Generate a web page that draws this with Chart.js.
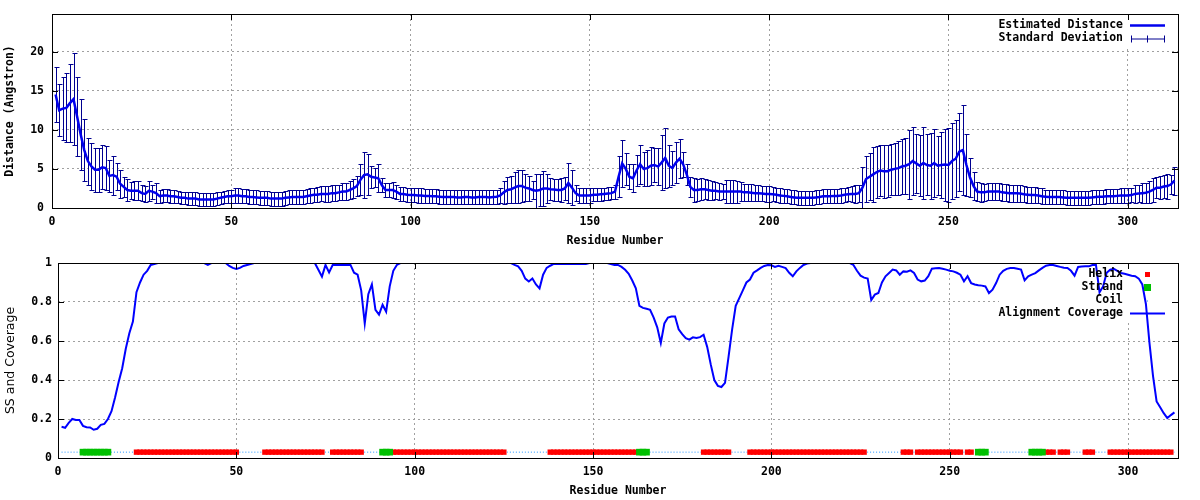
<!DOCTYPE html>
<html>
<head>
<meta charset="utf-8">
<script src="https://cdn.jsdelivr.net/npm/chart.js@4.4.0/dist/chart.umd.min.js"></script>
<style>
  body { margin: 0; background: #fff; }
  .panel { width: 1200px; height: 250px; }
</style>
</head>
<body>
<div class="panel"><canvas id="distanceChart" width="1200" height="250"></canvas></div>
<div class="panel"><canvas id="coverageChart" width="1200" height="250"></canvas></div>
<script>
// estimated distance per residue (Angstrom), residues 1..313
const distance = [
  14.5, 12.5, 12.7, 12.8, 13.4, 13.9, 11.7, 9.4, 7.4, 6.0,
  5.3, 4.9, 4.9, 5.2, 5.1, 4.1, 4.2, 4.0, 3.1, 2.7,
  2.3, 2.2, 2.2, 2.2, 1.9, 1.8, 2.2, 2.1, 1.9, 1.5,
  1.6, 1.6, 1.5, 1.5, 1.4, 1.3, 1.3, 1.2, 1.2, 1.2,
  1.1, 1.1, 1.1, 1.1, 1.1, 1.2, 1.3, 1.4, 1.5, 1.5,
  1.6, 1.6, 1.5, 1.5, 1.4, 1.4, 1.35, 1.3, 1.3, 1.3,
  1.2, 1.2, 1.2, 1.2, 1.3, 1.35, 1.4, 1.4, 1.4, 1.4,
  1.5, 1.6, 1.7, 1.7, 1.8, 1.8, 1.8, 1.9, 1.9, 2.0,
  2.1, 2.1, 2.3, 2.5, 2.8, 3.6, 4.2, 4.3, 4.0, 3.9,
  3.8, 2.9, 2.3, 2.3, 2.3, 2.1, 1.8, 1.8, 1.7, 1.65,
  1.65, 1.6, 1.6, 1.55, 1.55, 1.5, 1.5, 1.45, 1.4, 1.4,
  1.4, 1.4, 1.35, 1.35, 1.4, 1.4, 1.35, 1.35, 1.4, 1.4,
  1.4, 1.35, 1.4, 1.45, 1.6, 2.0, 2.3, 2.4, 2.6, 2.8,
  2.8, 2.6, 2.5, 2.3, 2.2, 2.3, 2.5, 2.5, 2.4, 2.35,
  2.3, 2.3, 2.5, 3.2, 2.6, 1.9, 1.6, 1.6, 1.6, 1.6,
  1.7, 1.7, 1.75, 1.8, 1.85, 1.9, 2.1, 4.0, 5.7, 5.0,
  4.0, 3.8, 4.8, 5.6, 5.0, 5.1, 5.4, 5.5, 5.3, 5.8,
  6.4, 5.4, 5.1, 5.8, 6.3, 5.6, 4.3, 2.7, 2.3, 2.3,
  2.4, 2.4, 2.3, 2.2, 2.2, 2.1, 2.1, 2.1, 2.1, 2.1,
  2.1, 2.1, 2.0, 2.0, 1.95, 1.9, 1.9, 1.85, 1.8, 1.8,
  1.75, 1.7, 1.6, 1.55, 1.5, 1.4, 1.35, 1.3, 1.3, 1.3,
  1.3, 1.3, 1.35, 1.4, 1.5, 1.5, 1.5, 1.55, 1.55, 1.6,
  1.7, 1.75, 1.8, 1.8, 1.9, 2.6, 3.7, 4.0, 4.3, 4.6,
  4.8, 4.7, 4.7, 4.9, 5.0, 5.1, 5.3, 5.4, 5.6, 6.0,
  5.7, 5.4, 5.75, 5.5, 5.4, 5.75, 5.4, 5.5, 5.55, 5.5,
  6.0, 6.3, 7.2, 7.4, 5.5, 3.9, 2.8, 2.1, 2.0, 2.0,
  2.1, 2.1, 2.1, 2.1, 2.0, 1.95, 1.9, 1.9, 1.9, 1.85,
  1.75, 1.7, 1.65, 1.65, 1.6, 1.5, 1.45, 1.4, 1.4, 1.4,
  1.4, 1.35, 1.3, 1.3, 1.3, 1.3, 1.3, 1.3, 1.3, 1.35,
  1.4, 1.45, 1.45, 1.5, 1.5, 1.5, 1.55, 1.6, 1.6, 1.6,
  1.65, 1.8, 1.85, 1.9, 1.95, 2.1, 2.3, 2.6, 2.6, 2.75,
  2.8, 3.0, 3.5
];

// standard deviation per residue
const stdDev = [
  3.5, 3.3, 4.0, 4.4, 5.0, 5.9, 5.1, 4.5, 4.0, 3.0,
  3.0, 2.8, 2.8, 2.8, 2.8, 2.1, 2.5, 1.7, 1.8, 1.3,
  1.4, 1.1, 1.2, 1.2, 1.0, 1.0, 1.3, 0.9, 1.3, 0.8,
  0.8, 0.8, 0.8, 0.8, 0.8, 0.8, 0.8, 0.8, 0.8, 0.8,
  0.8, 0.8, 0.8, 0.8, 0.8, 0.8, 0.8, 0.8, 0.8, 0.8,
  0.9, 0.9, 0.9, 0.9, 0.9, 0.9, 0.9, 0.9, 0.9, 0.9,
  0.9, 0.9, 0.9, 0.9, 0.9, 0.9, 0.9, 0.9, 0.9, 0.9,
  0.9, 0.9, 0.9, 0.95, 0.95, 1.0, 1.0, 1.0, 1.0, 1.0,
  1.1, 1.1, 1.2, 1.2, 1.3, 2.0, 2.9, 2.6, 1.4, 1.2,
  1.8, 0.9, 0.9, 0.9, 1.0, 0.9, 0.9, 0.9, 0.9, 0.9,
  0.9, 0.9, 0.9, 0.9, 0.9, 0.9, 0.9, 0.9, 0.9, 0.9,
  0.9, 0.9, 0.9, 0.9, 0.9, 0.9, 0.9, 0.9, 0.9, 0.9,
  0.9, 0.9, 0.9, 0.9, 0.9, 1.5, 1.6, 1.7, 2.0, 2.1,
  2.0, 1.7, 1.6, 1.1, 2.2, 2.1, 2.2, 1.9, 1.4, 1.4,
  1.4, 1.5, 1.5, 2.5, 2.2, 1.0, 0.9, 0.9, 0.9, 0.9,
  0.8, 0.8, 0.8, 0.8, 0.8, 0.8, 0.9, 2.6, 3.0, 2.0,
  1.6, 1.8, 2.0, 2.5, 2.2, 2.3, 2.4, 2.2, 2.4, 3.5,
  3.8, 2.7, 2.2, 2.6, 2.5, 1.6, 1.3, 1.3, 1.5, 1.4,
  1.4, 1.3, 1.3, 1.2, 1.1, 1.1, 1.0, 1.5, 1.5, 1.5,
  1.4, 1.2, 1.1, 1.1, 1.1, 1.0, 1.0, 1.0, 1.0, 1.0,
  0.9, 0.9, 0.9, 0.9, 0.9, 0.9, 0.9, 0.9, 0.9, 0.9,
  0.9, 0.9, 0.9, 0.9, 0.9, 0.9, 0.9, 0.9, 0.9, 0.9,
  0.9, 0.9, 1.0, 1.1, 1.1, 2.6, 2.9, 3.0, 3.5, 3.3,
  3.3, 3.4, 3.3, 3.3, 3.3, 3.5, 3.5, 3.6, 4.4, 4.3,
  3.8, 3.9, 4.6, 3.9, 4.2, 4.3, 3.8, 4.2, 4.6, 4.7,
  4.9, 4.9, 5.0, 5.8, 4.0, 2.5, 1.8, 1.2, 1.2, 1.1,
  1.1, 1.1, 1.1, 1.1, 1.1, 1.1, 1.1, 1.1, 1.1, 1.1,
  1.0, 1.0, 1.0, 1.0, 1.0, 1.0, 0.9, 0.9, 0.9, 0.9,
  0.9, 0.9, 0.9, 0.9, 0.9, 0.9, 0.9, 0.9, 0.9, 0.9,
  0.9, 0.9, 0.9, 0.9, 0.9, 0.9, 0.9, 0.9, 0.9, 0.9,
  0.9, 1.1, 1.1, 1.3, 1.3, 1.4, 1.5, 1.3, 1.5, 1.5,
  1.6, 1.2, 1.8
];

// alignment coverage per residue
const coverage = [
  0.16, 0.155, 0.18, 0.2, 0.195, 0.195, 0.165, 0.158, 0.157, 0.145,
  0.15, 0.17, 0.175, 0.2, 0.24, 0.31, 0.39, 0.46, 0.56, 0.64,
  0.7, 0.85, 0.9, 0.94, 0.96, 0.99, 0.995, 1, 1, 1,
  1, 1, 1, 1, 1, 1, 1, 1, 1, 1,
  1, 0.99, 1, 1, 1, 1, 1, 0.985, 0.975, 0.97,
  0.975, 0.985, 0.99, 0.995, 1, 1, 1, 1, 1, 1,
  1, 1, 1, 1, 1, 1, 1, 1, 1, 1,
  1, 1, 0.965, 0.93, 0.99, 0.952, 0.99, 0.99, 0.99, 0.99,
  0.99, 0.99, 0.95, 0.94, 0.86, 0.69, 0.84, 0.89, 0.76, 0.735,
  0.786, 0.75, 0.88, 0.96, 0.99, 1, 1, 1, 1, 1,
  1, 1, 1, 1, 1, 1, 1, 1, 1, 1,
  1, 1, 1, 1, 1, 1, 1, 1, 1, 1,
  1, 1, 1, 1, 1, 1, 1, 0.99, 0.983, 0.96,
  0.92, 0.905, 0.92, 0.89, 0.87, 0.94, 0.975, 0.986, 0.995, 0.995,
  0.995, 0.995, 0.995, 0.995, 0.995, 0.995, 0.995, 0.995, 1, 1,
  1, 1, 1, 1, 0.995, 0.99, 0.99, 0.98, 0.965, 0.945,
  0.91, 0.87, 0.78, 0.77, 0.765, 0.76, 0.72, 0.67, 0.59, 0.69,
  0.72, 0.726, 0.726, 0.66, 0.635, 0.615, 0.607, 0.619, 0.615, 0.62,
  0.632, 0.57, 0.48, 0.4, 0.37, 0.364, 0.385, 0.52, 0.66, 0.78,
  0.82, 0.86, 0.9, 0.915, 0.95, 0.962, 0.975, 0.985, 0.99, 0.988,
  0.98, 0.986, 0.98, 0.974, 0.95, 0.932, 0.957, 0.975, 0.99, 0.997,
  1, 1, 1, 1, 1, 1, 1, 1, 1, 1,
  1, 1, 0.99, 0.96, 0.935, 0.925, 0.92, 0.81, 0.838, 0.846,
  0.9, 0.932, 0.949, 0.966, 0.962, 0.94, 0.957, 0.955, 0.962, 0.949,
  0.915, 0.906, 0.91, 0.932, 0.971, 0.973, 0.974, 0.97, 0.966, 0.96,
  0.957, 0.95, 0.94, 0.906, 0.932, 0.897, 0.89, 0.886, 0.884, 0.88,
  0.846, 0.863, 0.897, 0.94, 0.96, 0.97, 0.974, 0.974, 0.97, 0.966,
  0.911, 0.932, 0.94, 0.948, 0.962, 0.975, 0.986, 0.99, 0.99, 0.985,
  0.98, 0.976, 0.974, 0.96, 0.935, 0.98, 0.982, 0.983, 0.983, 0.99,
  0.99, 0.85, 0.88, 0.95, 0.966, 0.97, 0.96, 0.949, 0.945, 0.94,
  0.935, 0.932, 0.92, 0.89, 0.79, 0.59, 0.42, 0.29, 0.26, 0.23,
  0.205, 0.22, 0.234
];

// secondary structure as runs: [type, length]  H = helix, E = strand, C = coil
const ssRuns = [
  ["C", 6], ["E", 8], ["C", 7], ["H", 29], ["C", 7], ["H", 17], ["C", 2],
  ["H", 9], ["C", 5], ["E", 3], ["H", 32], ["C", 12], ["H", 25], ["E", 3],
  ["C", 15], ["H", 8], ["C", 5], ["H", 33], ["C", 10], ["H", 3], ["C", 1],
  ["H", 13], ["C", 1], ["H", 2], ["C", 1], ["E", 3], ["C", 12], ["E", 4],
  ["H", 3], ["C", 1], ["H", 3], ["C", 4], ["H", 3], ["C", 4], ["H", 18],
  ["C", 1]
];
const ssLevel = 0.03;

const xTicks = [0, 50, 100, 150, 200, 250, 300];
const distTicks = [0, 5, 10, 15, 20];
const covTicks = [0, 0.2, 0.4, 0.6, 0.8, 1];

const residues = distance.map((d, i) => i + 1);
const ss = [];
ssRuns.forEach(([t, n]) => { for (let k = 0; k < n; k++) ss.push(t); });

Chart.defaults.font.family = "'DejaVu Sans Mono', monospace";
Chart.defaults.font.size = 11.5;
Chart.defaults.font.weight = "bold";
Chart.defaults.color = "#000";

const monoFont = "bold 11.5px 'DejaVu Sans Mono', monospace";
const gridColor = "#a0a0a0";

// gnuplot style border with inward ticks on all four sides
const framePlugin = {
  id: "frame",
  afterDatasetsDraw(chart) {
    const { ctx, chartArea: a, scales } = chart;
    ctx.save();
    ctx.strokeStyle = "#000";
    ctx.lineWidth = 1;
    ctx.beginPath();
    scales.x.ticks.forEach((t) => {
      const px = Math.round(scales.x.getPixelForValue(t.value)) + 0.5;
      ctx.moveTo(px, a.bottom);
      ctx.lineTo(px, a.bottom - 6);
      ctx.moveTo(px, a.top);
      ctx.lineTo(px, a.top + 6);
    });
    scales.y.ticks.forEach((t) => {
      const py = Math.round(scales.y.getPixelForValue(t.value)) + 0.5;
      ctx.moveTo(a.left, py);
      ctx.lineTo(a.left + 6, py);
      ctx.moveTo(a.right, py);
      ctx.lineTo(a.right - 6, py);
    });
    ctx.stroke();
    ctx.strokeRect(Math.round(a.left) + 0.5, Math.round(a.top) + 0.5,
      Math.round(a.right - a.left), Math.round(a.bottom - a.top));
    ctx.restore();
  },
};

// key box: blanks the grid behind it, then writes the rows on top
function keyPlugin(id, box, rows) {
  return {
    id: id,
    beforeDatasetsDraw(chart) {
      const ctx = chart.ctx;
      ctx.save();
      ctx.fillStyle = "#fff";
      ctx.fillRect(box.x, box.y, box.w, box.h);
      ctx.restore();
    },
    afterDraw(chart) {
      const ctx = chart.ctx;
      ctx.save();
      ctx.font = monoFont;
      ctx.fillStyle = "#000";
      ctx.textAlign = "right";
      ctx.textBaseline = "middle";
      rows.forEach((row) => {
        ctx.fillText(row.label, 1123, row.y);
        ctx.save();
        row.sample(ctx, row.y);
        ctx.restore();
      });
      ctx.restore();
    },
  };
}

const errorBarPlugin = {
  id: "errorBars",
  beforeDatasetsDraw(chart) {
    const { ctx, chartArea: a, scales } = chart;
    ctx.save();
    ctx.beginPath();
    ctx.rect(a.left, a.top, a.right - a.left, a.bottom - a.top);
    ctx.clip();
    ctx.strokeStyle = "#000090";
    ctx.lineWidth = 1;
    ctx.beginPath();
    residues.forEach((r, i) => {
      const x = Math.round(scales.x.getPixelForValue(r)) + 0.5;
      const yTop = Math.round(scales.y.getPixelForValue(distance[i] + stdDev[i])) + 0.5;
      const yBot = Math.round(scales.y.getPixelForValue(distance[i] - stdDev[i])) + 0.5;
      ctx.moveTo(x, yTop);
      ctx.lineTo(x, yBot);
      ctx.moveTo(x - 2, yTop);
      ctx.lineTo(x + 3, yTop);
      ctx.moveTo(x - 2, yBot);
      ctx.lineTo(x + 3, yBot);
    });
    ctx.stroke();
    ctx.restore();
  },
};

function xAxis() {
  return {
    type: "linear",
    min: 0,
    max: 314,
    afterBuildTicks: (s) => { s.ticks = xTicks.map((v) => ({ value: v })); },
    afterFit: (s) => { s.height = 42; },
    grid: { color: gridColor, drawTicks: false },
    border: { display: false, dash: [2, 3] },
    ticks: { padding: 8, maxRotation: 0, autoSkip: false, font: { lineHeight: 1 } },
    title: { display: true, text: "Residue Number", padding: { top: 0, bottom: 2 } },
  };
}

// ---------- top panel ----------
new Chart(document.getElementById("distanceChart"), {
  type: "line",
  data: {
    datasets: [
      {
        label: "Estimated Distance",
        data: residues.map((r, i) => ({ x: r, y: distance[i] })),
        borderColor: "#0000ee",
        borderWidth: 2.5,
        pointRadius: 0,
        tension: 0,
      },
    ],
  },
  options: {
    responsive: false,
    animation: false,
    events: [],
    layout: { padding: { top: 14, right: 22, left: 0, bottom: 0 } },
    plugins: { legend: { display: false }, tooltip: { enabled: false } },
    scales: {
      x: xAxis(),
      y: {
        min: 0,
        max: 24.8,
        afterBuildTicks: (s) => { s.ticks = distTicks.map((v) => ({ value: v })); },
        afterFit: (s) => { s.width = 52; },
        grid: { color: gridColor, drawTicks: false },
        border: { display: false, dash: [2, 3] },
        ticks: { padding: 8, font: { lineHeight: 1 } },
        title: { display: true, text: "Distance (Angstron)", padding: { top: 3, bottom: 0 } },
      },
    },
  },
  plugins: [
    keyPlugin("distKey", { x: 995, y: 15, w: 182, h: 31 }, [
      {
        label: "Estimated Distance",
        y: 25.5,
        sample(ctx, y) {
          ctx.strokeStyle = "#0000ee";
          ctx.lineWidth = 2.5;
          ctx.beginPath();
          ctx.moveTo(1130, y);
          ctx.lineTo(1165, y);
          ctx.stroke();
        },
      },
      {
        label: "Standard Deviation",
        y: 38.5,
        sample(ctx, y) {
          ctx.strokeStyle = "#000090";
          ctx.lineWidth = 1;
          ctx.beginPath();
          ctx.moveTo(1131, y + 0.5);
          ctx.lineTo(1164, y + 0.5);
          [1131.5, 1147.5, 1164.5].forEach((x) => {
            ctx.moveTo(x, y - 3);
            ctx.lineTo(x, y + 4);
          });
          ctx.stroke();
        },
      },
    ]),
    errorBarPlugin,
    framePlugin,
  ],
});

// ---------- bottom panel ----------
const helixPts = [];
const strandPts = [];
const coilPts = [];
residues.forEach((r, i) => {
  if (ss[i] === "H") helixPts.push({ x: r, y: ssLevel });
  if (ss[i] === "E") strandPts.push({ x: r, y: ssLevel });
  const nearCoil = ss[i] === "C" || ss[i - 1] === "C" || ss[i + 1] === "C";
  coilPts.push({ x: r, y: nearCoil ? ssLevel : null });
});

new Chart(document.getElementById("coverageChart"), {
  type: "line",
  data: {
    datasets: [
      {
        label: "Alignment Coverage",
        data: residues.map((r, i) => ({ x: r, y: coverage[i] })),
        borderColor: "#0000ff",
        borderWidth: 2,
        pointRadius: 0,
        tension: 0,
        order: 0,
      },
      {
        label: "Strand",
        data: strandPts,
        showLine: false,
        pointStyle: "rect",
        pointRadius: 4.7,
        pointBorderWidth: 0,
        pointBackgroundColor: "#00c000",
        order: 1,
      },
      {
        label: "Helix",
        data: helixPts,
        showLine: false,
        pointStyle: "rect",
        pointRadius: 3.8,
        pointBorderWidth: 0,
        pointBackgroundColor: "#ff0000",
        order: 2,
      },
      {
        label: "Coil",
        data: coilPts,
        borderColor: "#1e90ff",
        borderWidth: 1,
        borderDash: [1, 2],
        pointRadius: 0,
        spanGaps: false,
        order: 3,
      },
    ],
  },
  options: {
    responsive: false,
    animation: false,
    events: [],
    layout: { padding: { top: 13, right: 22, left: 0, bottom: 0 } },
    plugins: { legend: { display: false }, tooltip: { enabled: false } },
    scales: {
      x: xAxis(),
      y: {
        min: 0,
        max: 1,
        afterBuildTicks: (s) => { s.ticks = covTicks.map((v) => ({ value: v })); },
        afterFit: (s) => { s.width = 58; },
        grid: { color: gridColor, drawTicks: false },
        border: { display: false, dash: [2, 3] },
        ticks: { padding: 6, font: { lineHeight: 1 }, callback: (v) => String(v) },
        title: {
          display: true,
          text: "SS and Coverage",
          padding: { top: 3, bottom: 0 },
          font: { family: "'DejaVu Sans', sans-serif", size: 12.5, weight: "normal" },
        },
      },
    },
  },
  plugins: [
    keyPlugin("covKey", { x: 999, y: 15, w: 178, h: 55 }, [
      {
        label: "Helix",
        y: 24.5,
        sample(ctx, y) {
          ctx.fillStyle = "#ff0000";
          ctx.fillRect(1145, y - 2.5, 5, 5);
        },
      },
      {
        label: "Strand",
        y: 37.5,
        sample(ctx, y) {
          ctx.fillStyle = "#00c000";
          ctx.fillRect(1144, y - 3.5, 7, 7);
        },
      },
      {
        label: "Coil",
        y: 50.5,
        sample(ctx, y) {
          ctx.fillStyle = "#1e90ff";
          ctx.fillRect(1147, y, 1, 1);
        },
      },
      {
        label: "Alignment Coverage",
        y: 63.5,
        sample(ctx, y) {
          ctx.strokeStyle = "#0000ff";
          ctx.lineWidth = 2;
          ctx.beginPath();
          ctx.moveTo(1130, y);
          ctx.lineTo(1165, y);
          ctx.stroke();
        },
      },
    ]),
    framePlugin,
  ],
});
</script>
</body>
</html>
